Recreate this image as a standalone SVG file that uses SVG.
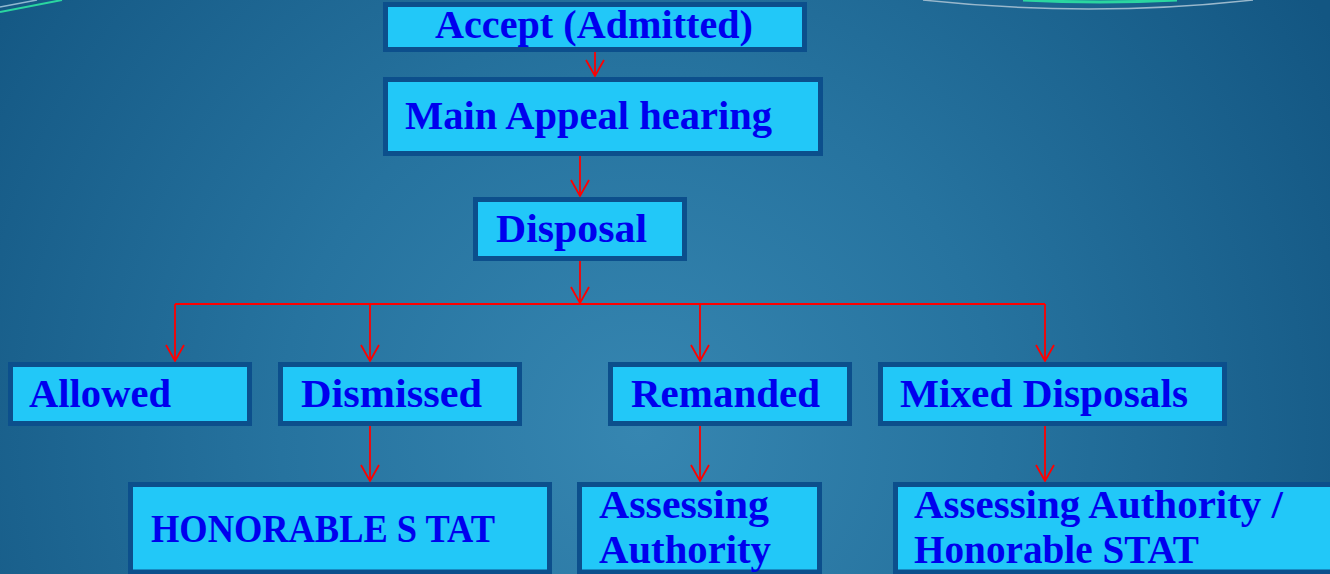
<svg xmlns="http://www.w3.org/2000/svg" width="1330" height="574" viewBox="0 0 1330 574">
<defs>
<radialGradient id="bg" cx="640" cy="430" r="800" gradientUnits="userSpaceOnUse">
<stop offset="0" stop-color="#3686b1"/>
<stop offset="0.45" stop-color="#26739f"/>
<stop offset="1" stop-color="#135682"/>
</radialGradient>
<marker id="arr" markerUnits="userSpaceOnUse" viewBox="-18 -11 20 22" refX="0" refY="0" markerWidth="20" markerHeight="22" orient="auto" overflow="visible">
<path d="M-16,-9 L0,0 L-16,9" fill="none" stroke="#ff0000" stroke-width="1.8"/>
</marker>
<style>
.box{fill:#22c8f8;stroke:#0c4f8c;stroke-width:5}
.t{font-family:"Liberation Serif","DejaVu Serif",serif;font-weight:bold;fill:#0000ee;font-size:39px}
.c{fill:none;stroke:#ff0000;stroke-width:1.8}
</style>
</defs>
<rect x="0" y="0" width="1330" height="574" fill="url(#bg)"/>
<g id="decor" fill="none">
<path d="M0,7 L37,0" stroke="#8fb8d0" stroke-width="1.5"/>
<path d="M0,12 L62,0" stroke="#2ad6a0" stroke-width="2"/>
<path d="M923,0 Q1090,18 1253,0" stroke="#9ab8cc" stroke-width="1.5"/>
<path d="M1023,0 Q1100,4 1177,0" stroke="#2ad6a0" stroke-width="3"/>
</g>
<g id="connectors">
<line class="c" x1="595" y1="52" x2="595" y2="76" marker-end="url(#arr)"/>
<line class="c" x1="580" y1="156" x2="580" y2="196" marker-end="url(#arr)"/>
<line class="c" x1="580" y1="261" x2="580" y2="303" marker-end="url(#arr)"/>
<polyline class="c" points="175,304 1045,304"/>
<line class="c" x1="175" y1="304" x2="175" y2="361" marker-end="url(#arr)"/>
<line class="c" x1="370" y1="304" x2="370" y2="361" marker-end="url(#arr)"/>
<line class="c" x1="700" y1="304" x2="700" y2="361" marker-end="url(#arr)"/>
<line class="c" x1="1045" y1="304" x2="1045" y2="361" marker-end="url(#arr)"/>
<line class="c" x1="370" y1="426" x2="370" y2="481" marker-end="url(#arr)"/>
<line class="c" x1="700" y1="426" x2="700" y2="481" marker-end="url(#arr)"/>
<line class="c" x1="1045" y1="426" x2="1045" y2="481" marker-end="url(#arr)"/>
</g>
<g id="accept">
<rect class="box" x="385.5" y="4.5" width="419" height="45"/>
<text class="t" x="435" y="38" font-size="37" textLength="318" lengthAdjust="spacingAndGlyphs">Accept (Admitted)</text>
</g>
<g id="main">
<rect class="box" x="385.5" y="79.5" width="435" height="74"/>
<text class="t" x="405" y="129" textLength="367" lengthAdjust="spacingAndGlyphs">Main Appeal hearing</text>
</g>
<g id="disposal">
<rect class="box" x="475.5" y="199.5" width="209" height="59"/>
<text class="t" x="496" y="242" textLength="151" lengthAdjust="spacingAndGlyphs">Disposal</text>
</g>
<g id="allowed">
<rect class="box" x="10.5" y="364.5" width="239" height="59"/>
<text class="t" x="29" y="407" textLength="142" lengthAdjust="spacingAndGlyphs">Allowed</text>
</g>
<g id="dismissed">
<rect class="box" x="280.5" y="364.5" width="239" height="59"/>
<text class="t" x="301" y="407" textLength="181" lengthAdjust="spacingAndGlyphs">Dismissed</text>
</g>
<g id="remanded">
<rect class="box" x="610.5" y="364.5" width="239" height="59"/>
<text class="t" x="631" y="407" textLength="189" lengthAdjust="spacingAndGlyphs">Remanded</text>
</g>
<g id="mixed">
<rect class="box" x="880.5" y="364.5" width="344" height="59"/>
<text class="t" x="900" y="407" textLength="288" lengthAdjust="spacingAndGlyphs">Mixed Disposals</text>
</g>
<g id="stat">
<rect class="box" x="130.5" y="484.5" width="419" height="87.5"/>
<text class="t" x="151" y="542" font-size="37" textLength="344" lengthAdjust="spacingAndGlyphs">HONORABLE S TAT</text>
</g>
<g id="assessing">
<rect class="box" x="579.5" y="484.5" width="240" height="87.5"/>
<text class="t" x="599" y="518" font-size="37" textLength="170" lengthAdjust="spacingAndGlyphs">Assessing</text>
<text class="t" x="599" y="563" font-size="37" textLength="172" lengthAdjust="spacingAndGlyphs">Authority</text>
</g>
<g id="assessing-stat">
<rect class="box" x="895.5" y="484.5" width="460" height="87.5"/>
<text class="t" x="914" y="518" font-size="37" textLength="369" lengthAdjust="spacingAndGlyphs">Assessing Authority /</text>
<text class="t" x="914" y="563" font-size="37" textLength="285" lengthAdjust="spacingAndGlyphs">Honorable STAT</text>
</g>
</svg>
